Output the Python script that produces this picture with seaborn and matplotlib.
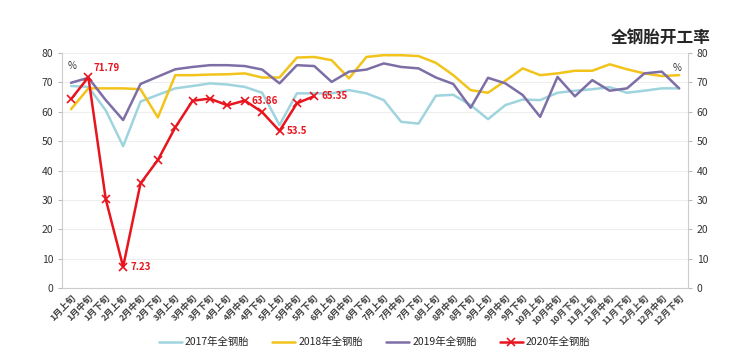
import numpy as np
import pandas as pd
import matplotlib
matplotlib.use("Agg")
import matplotlib.pyplot as plt
import seaborn as sns

# periods: 36 ten-day periods
months = [f"{m}月" for m in range(1, 13)]
parts = ["上旬", "中旬", "下旬"]
periods = [m + p for m in months for p in parts]

# all-steel tyre operating rate (%)
rate_2017 = [68.8, 68.5, 60.5, 48.3, 63.5, 65.8, 68.0, 68.8, 69.7, 69.3, 68.5, 66.5,
             55.5, 66.3, 66.3, 66.3, 67.4, 66.3, 64.0, 56.6, 56.0, 65.5, 65.8, 62.3,
             57.5, 62.3, 64.2, 64.0, 66.5, 67.2, 67.7, 68.4, 66.5, 67.2, 68.0, 68.0]
rate_2018 = [60.9, 68.0, 68.0, 68.0, 67.7, 58.1, 72.5, 72.5, 72.7, 72.8, 73.1, 71.7,
             71.7, 78.5, 78.7, 77.6, 71.4, 78.7, 79.3, 79.3, 79.0, 76.7, 72.5, 67.4,
             66.5, 70.6, 74.8, 72.5, 73.1, 74.0, 74.0, 76.2, 74.5, 73.1, 72.2, 72.5]
rate_2019 = [69.9, 71.6, 64.0, 57.2, 69.5, 72.0, 74.5, 75.3, 75.9, 75.9, 75.6, 74.4,
             69.7, 75.9, 75.6, 70.2, 73.7, 74.4, 76.5, 75.3, 74.8, 71.7, 69.5, 61.4,
             71.6, 69.7, 65.7, 58.3, 71.9, 65.3, 70.8, 67.2, 68.0, 73.1, 73.7, 68.0]
rate_2020 = [64.3, 71.79, 30.2, 7.23, 35.6, 43.6, 54.7, 63.8, 64.5, 62.2, 63.86, 59.9,
             53.5, 62.9, 65.35]

# points that carry a value label in the 2020 series
labelled_2020 = [1, 3, 10, 12, 14]

series_names = ["2017年全钢胎", "2018年全钢胎", "2019年全钢胎", "2020年全钢胎"]
colors = ["#9fd4de", "#f2c31b", "#7e6ea6", "#e8141e"]

sns.set_style("white")
plt.rcParams["font.family"] = ["Noto Sans CJK SC", "DejaVu Sans"]

frames = []
for name, vals in zip(series_names, [rate_2017, rate_2018, rate_2019, rate_2020]):
    frames.append(pd.DataFrame({"period": periods[:len(vals)], "rate": vals, "series": name}))
df = pd.concat(frames, ignore_index=True)
df["x"] = df["period"].map({p: i for i, p in enumerate(periods)})

fig = plt.figure(figsize=(7.42, 3.64), dpi=100)
ax = fig.add_axes([0.084, 0.209, 0.843, 0.645])

for name, color in zip(series_names, colors):
    sub = df[df["series"] == name]
    if name.startswith("2020"):
        sns.lineplot(data=sub, x="x", y="rate", ax=ax, color=color, linewidth=1.8,
                     marker="x", markersize=6, markeredgewidth=1.2,
                     markeredgecolor=color, label=name, zorder=5)
    else:
        sns.lineplot(data=sub, x="x", y="rate", ax=ax, color=color, linewidth=1.8,
                     label=name, zorder=3)

# value labels on 2020 line
for i in labelled_2020:
    v = rate_2020[i]
    txt = f"{v:g}"
    if i == 1:
        ax.annotate(txt, (i, v), xytext=(4, 3), textcoords="offset points",
                    color="#e8141e", fontsize=7, fontweight="bold", va="bottom")
    else:
        ax.annotate(txt, (i, v), xytext=(5, 0), textcoords="offset points",
                    color="#e8141e", fontsize=7, fontweight="bold", va="center")

ax.set_xlim(-0.5, len(periods) - 0.5)
ax.set_ylim(0, 80)
ax.set_yticks(range(0, 81, 10))
ax.set_xticks(range(len(periods)))
ax.set_xticklabels(periods, rotation=45, ha="right", rotation_mode="anchor",
                   fontsize=6.5, color="#444444", fontweight="bold")
ax.set_xticks(np.arange(-0.5, len(periods), 1), minor=True)
ax.tick_params(axis="x", which="major", length=0, pad=4)
ax.tick_params(axis="x", which="minor", length=3, color="#bbbbbb")
ax.tick_params(axis="y", labelsize=7.5, labelcolor="#333333", length=3, color="#bbbbbb")
ax.set_xlabel("")
ax.set_ylabel("")
ax.grid(axis="y", color="#eeeeee", linewidth=0.8)
ax.set_axisbelow(True)
for side in ["top", "right"]:
    ax.spines[side].set_visible(False)
for side in ["left", "bottom"]:
    ax.spines[side].set_color("#cccccc")

ax2 = ax.twinx()
ax2.set_ylim(0, 80)
ax2.set_yticks(range(0, 81, 10))
ax2.tick_params(axis="y", labelsize=7.5, labelcolor="#333333", length=3, color="#bbbbbb")
for side in ["top", "left", "bottom"]:
    ax2.spines[side].set_visible(False)
ax2.spines["right"].set_color("#cccccc")

ax.text(0.008, 0.965, "%", transform=ax.transAxes, fontsize=7, color="#333333",
        ha="left", va="top")
ax.text(0.99, 0.96, "%", transform=ax.transAxes, fontsize=7, color="#333333",
        ha="right", va="top")

fig.text(0.957, 0.895, "全钢胎开工率", fontsize=12, fontweight="bold", ha="right", va="center")

handles, labels = ax.get_legend_handles_labels()
ax.legend_.remove()
fig.legend(handles, labels, loc="center", bbox_to_anchor=(0.505, 0.06), ncol=4,
           frameon=False, fontsize=7.5, handlelength=2.2, columnspacing=2.2,
           handletextpad=0.3)

fig.savefig("out.png", dpi=100)
